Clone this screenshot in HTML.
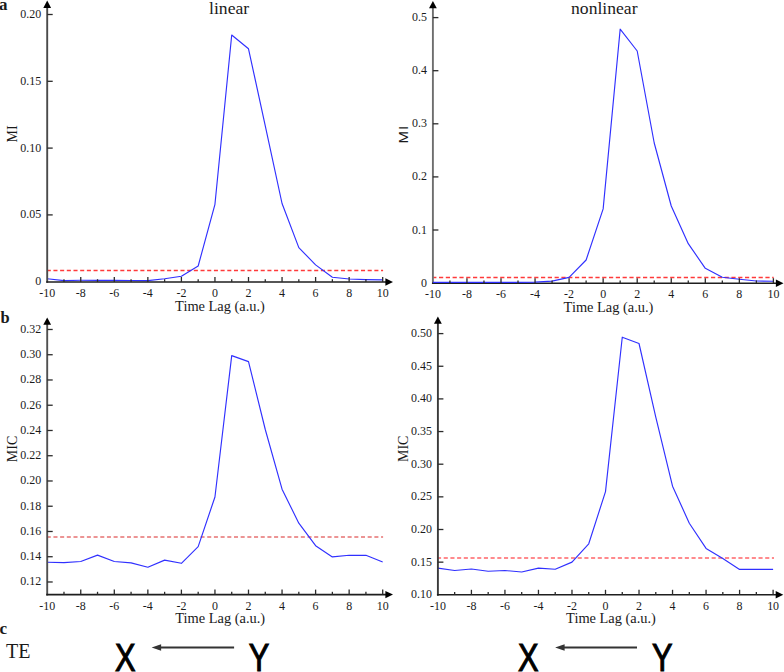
<!DOCTYPE html>
<html><head><meta charset="utf-8"><title>figure</title>
<style>html,body{margin:0;padding:0;background:#fff;}body{width:784px;height:672px;overflow:hidden;font-family:"Liberation Serif",serif;}svg{display:block;}</style>
</head><body>
<svg width="784" height="672" viewBox="0 0 784 672" font-family="Liberation Serif, serif" fill="#1a1a1a">
<rect width="784" height="672" fill="#fff"/>
<line x1="47.80" y1="270.50" x2="383.10" y2="270.50" stroke="#ff3a3a" stroke-width="1.3" stroke-dasharray="4.050 2.636" stroke-dashoffset="1.050"/>
<polyline points="47.20,278.80 63.98,280.60 80.75,280.30 97.53,280.30 114.30,280.40 131.07,280.50 147.85,280.60 164.62,278.80 181.40,276.20 198.18,266.00 214.95,204.30 231.72,35.00 248.50,48.80 265.27,125.80 282.05,203.50 298.82,247.60 315.60,264.90 332.37,277.30 349.15,279.00 365.92,279.60 382.70,279.90" fill="none" stroke="#3030ff" stroke-width="1.15" stroke-linejoin="round"/>
<line x1="47.20" y1="282.85" x2="47.20" y2="6.60" stroke="#4a4a4a" stroke-width="1.9"/>
<line x1="46.25" y1="282.00" x2="386.00" y2="282.00" stroke="#1e1e1e" stroke-width="1.6"/>
<path d="M393.00,282.00 L385.40,278.30 L385.40,285.70 Z" fill="#000"/>
<path d="M47.20,0.60 L43.30,7.90 L51.10,7.90 Z" fill="#000"/>
<line x1="63.98" y1="282.00" x2="63.98" y2="279.20" stroke="#2b2b2b" stroke-width="1.3"/>
<line x1="80.75" y1="282.00" x2="80.75" y2="277.00" stroke="#2b2b2b" stroke-width="1.3"/>
<line x1="97.53" y1="282.00" x2="97.53" y2="279.20" stroke="#2b2b2b" stroke-width="1.3"/>
<line x1="114.30" y1="282.00" x2="114.30" y2="277.00" stroke="#2b2b2b" stroke-width="1.3"/>
<line x1="131.07" y1="282.00" x2="131.07" y2="279.20" stroke="#2b2b2b" stroke-width="1.3"/>
<line x1="147.85" y1="282.00" x2="147.85" y2="277.00" stroke="#2b2b2b" stroke-width="1.3"/>
<line x1="164.62" y1="282.00" x2="164.62" y2="279.20" stroke="#2b2b2b" stroke-width="1.3"/>
<line x1="181.40" y1="282.00" x2="181.40" y2="277.00" stroke="#2b2b2b" stroke-width="1.3"/>
<line x1="198.18" y1="282.00" x2="198.18" y2="279.20" stroke="#2b2b2b" stroke-width="1.3"/>
<line x1="214.95" y1="282.00" x2="214.95" y2="277.00" stroke="#2b2b2b" stroke-width="1.3"/>
<line x1="231.72" y1="282.00" x2="231.72" y2="279.20" stroke="#2b2b2b" stroke-width="1.3"/>
<line x1="248.50" y1="282.00" x2="248.50" y2="277.00" stroke="#2b2b2b" stroke-width="1.3"/>
<line x1="265.27" y1="282.00" x2="265.27" y2="279.20" stroke="#2b2b2b" stroke-width="1.3"/>
<line x1="282.05" y1="282.00" x2="282.05" y2="277.00" stroke="#2b2b2b" stroke-width="1.3"/>
<line x1="298.82" y1="282.00" x2="298.82" y2="279.20" stroke="#2b2b2b" stroke-width="1.3"/>
<line x1="315.60" y1="282.00" x2="315.60" y2="277.00" stroke="#2b2b2b" stroke-width="1.3"/>
<line x1="332.37" y1="282.00" x2="332.37" y2="279.20" stroke="#2b2b2b" stroke-width="1.3"/>
<line x1="349.15" y1="282.00" x2="349.15" y2="277.00" stroke="#2b2b2b" stroke-width="1.3"/>
<line x1="365.92" y1="282.00" x2="365.92" y2="279.20" stroke="#2b2b2b" stroke-width="1.3"/>
<line x1="382.70" y1="282.00" x2="382.70" y2="277.00" stroke="#2b2b2b" stroke-width="1.3"/>
<text font-size="13" text-anchor="middle" transform="translate(47.20,297.00) scale(0.92,1)">-10</text>
<text font-size="13" text-anchor="middle" transform="translate(80.75,297.00) scale(0.92,1)">-8</text>
<text font-size="13" text-anchor="middle" transform="translate(114.30,297.00) scale(0.92,1)">-6</text>
<text font-size="13" text-anchor="middle" transform="translate(147.85,297.00) scale(0.92,1)">-4</text>
<text font-size="13" text-anchor="middle" transform="translate(181.40,297.00) scale(0.92,1)">-2</text>
<text font-size="13" text-anchor="middle" transform="translate(214.95,297.00) scale(0.92,1)">0</text>
<text font-size="13" text-anchor="middle" transform="translate(248.50,297.00) scale(0.92,1)">2</text>
<text font-size="13" text-anchor="middle" transform="translate(282.05,297.00) scale(0.92,1)">4</text>
<text font-size="13" text-anchor="middle" transform="translate(315.60,297.00) scale(0.92,1)">6</text>
<text font-size="13" text-anchor="middle" transform="translate(349.15,297.00) scale(0.92,1)">8</text>
<text font-size="13" text-anchor="middle" transform="translate(382.70,297.00) scale(0.92,1)">10</text>
<line x1="47.20" y1="14.50" x2="52.70" y2="14.50" stroke="#2b2b2b" stroke-width="1.3"/>
<text font-size="13" text-anchor="end" transform="translate(41.20,18.00) scale(0.92,1)">0.20</text>
<line x1="47.20" y1="81.30" x2="52.70" y2="81.30" stroke="#2b2b2b" stroke-width="1.3"/>
<text font-size="13" text-anchor="end" transform="translate(41.20,84.80) scale(0.92,1)">0.15</text>
<line x1="47.20" y1="148.10" x2="52.70" y2="148.10" stroke="#2b2b2b" stroke-width="1.3"/>
<text font-size="13" text-anchor="end" transform="translate(41.20,151.60) scale(0.92,1)">0.10</text>
<line x1="47.20" y1="214.90" x2="52.70" y2="214.90" stroke="#2b2b2b" stroke-width="1.3"/>
<text font-size="13" text-anchor="end" transform="translate(41.20,218.40) scale(0.92,1)">0.05</text>
<text font-size="13" text-anchor="end" transform="translate(41.20,285.20) scale(0.92,1)">0</text>
<text x="220.00" y="310.60" font-size="14.4" text-anchor="middle">Time Lag (a.u.)</text>
<text x="0" y="0" font-size="14" text-anchor="middle" transform="translate(17.00,134.00) rotate(-90)">MI</text>
<line x1="433.20" y1="277.50" x2="773.70" y2="277.50" stroke="#ff3a3a" stroke-width="1.3" stroke-dasharray="4.200 2.600" stroke-dashoffset="1.000"/>
<line x1="432.90" y1="284.05" x2="432.90" y2="7.00" stroke="#6e6e6e" stroke-width="1.9"/>
<line x1="431.95" y1="283.20" x2="776.50" y2="283.20" stroke="#1e1e1e" stroke-width="1.6"/>
<polyline points="432.90,282.30 449.92,282.30 466.95,282.30 483.97,282.30 501.00,282.30 518.02,282.30 535.05,282.10 552.07,281.10 569.10,277.40 586.12,260.00 603.15,208.90 620.17,29.20 637.20,51.00 654.22,143.00 671.25,206.00 688.27,243.70 705.30,268.30 722.32,277.30 739.35,279.30 756.38,281.00 773.40,281.30" fill="none" stroke="#3030ff" stroke-width="1.15" stroke-linejoin="round"/>
<path d="M783.50,283.20 L775.90,279.50 L775.90,286.90 Z" fill="#000"/>
<path d="M432.90,1.00 L429.00,8.30 L436.80,8.30 Z" fill="#000"/>
<line x1="449.92" y1="283.20" x2="449.92" y2="280.40" stroke="#2b2b2b" stroke-width="1.3"/>
<line x1="466.95" y1="283.20" x2="466.95" y2="278.20" stroke="#2b2b2b" stroke-width="1.3"/>
<line x1="483.97" y1="283.20" x2="483.97" y2="280.40" stroke="#2b2b2b" stroke-width="1.3"/>
<line x1="501.00" y1="283.20" x2="501.00" y2="278.20" stroke="#2b2b2b" stroke-width="1.3"/>
<line x1="518.02" y1="283.20" x2="518.02" y2="280.40" stroke="#2b2b2b" stroke-width="1.3"/>
<line x1="535.05" y1="283.20" x2="535.05" y2="278.20" stroke="#2b2b2b" stroke-width="1.3"/>
<line x1="552.07" y1="283.20" x2="552.07" y2="280.40" stroke="#2b2b2b" stroke-width="1.3"/>
<line x1="569.10" y1="283.20" x2="569.10" y2="278.20" stroke="#2b2b2b" stroke-width="1.3"/>
<line x1="586.12" y1="283.20" x2="586.12" y2="280.40" stroke="#2b2b2b" stroke-width="1.3"/>
<line x1="603.15" y1="283.20" x2="603.15" y2="278.20" stroke="#2b2b2b" stroke-width="1.3"/>
<line x1="620.17" y1="283.20" x2="620.17" y2="280.40" stroke="#2b2b2b" stroke-width="1.3"/>
<line x1="637.20" y1="283.20" x2="637.20" y2="278.20" stroke="#2b2b2b" stroke-width="1.3"/>
<line x1="654.22" y1="283.20" x2="654.22" y2="280.40" stroke="#2b2b2b" stroke-width="1.3"/>
<line x1="671.25" y1="283.20" x2="671.25" y2="278.20" stroke="#2b2b2b" stroke-width="1.3"/>
<line x1="688.27" y1="283.20" x2="688.27" y2="280.40" stroke="#2b2b2b" stroke-width="1.3"/>
<line x1="705.30" y1="283.20" x2="705.30" y2="278.20" stroke="#2b2b2b" stroke-width="1.3"/>
<line x1="722.32" y1="283.20" x2="722.32" y2="280.40" stroke="#2b2b2b" stroke-width="1.3"/>
<line x1="739.35" y1="283.20" x2="739.35" y2="278.20" stroke="#2b2b2b" stroke-width="1.3"/>
<line x1="756.38" y1="283.20" x2="756.38" y2="280.40" stroke="#2b2b2b" stroke-width="1.3"/>
<line x1="773.40" y1="283.20" x2="773.40" y2="278.20" stroke="#2b2b2b" stroke-width="1.3"/>
<text font-size="13" text-anchor="middle" transform="translate(432.90,298.30) scale(0.92,1)">-10</text>
<text font-size="13" text-anchor="middle" transform="translate(466.95,298.30) scale(0.92,1)">-8</text>
<text font-size="13" text-anchor="middle" transform="translate(501.00,298.30) scale(0.92,1)">-6</text>
<text font-size="13" text-anchor="middle" transform="translate(535.05,298.30) scale(0.92,1)">-4</text>
<text font-size="13" text-anchor="middle" transform="translate(569.10,298.30) scale(0.92,1)">-2</text>
<text font-size="13" text-anchor="middle" transform="translate(603.15,298.30) scale(0.92,1)">0</text>
<text font-size="13" text-anchor="middle" transform="translate(637.20,298.30) scale(0.92,1)">2</text>
<text font-size="13" text-anchor="middle" transform="translate(671.25,298.30) scale(0.92,1)">4</text>
<text font-size="13" text-anchor="middle" transform="translate(705.30,298.30) scale(0.92,1)">6</text>
<text font-size="13" text-anchor="middle" transform="translate(739.35,298.30) scale(0.92,1)">8</text>
<text font-size="13" text-anchor="middle" transform="translate(773.40,298.30) scale(0.92,1)">10</text>
<line x1="432.90" y1="17.60" x2="438.40" y2="17.60" stroke="#2b2b2b" stroke-width="1.3"/>
<text font-size="13" text-anchor="end" transform="translate(426.90,21.10) scale(0.92,1)">0.5</text>
<line x1="432.90" y1="70.70" x2="438.40" y2="70.70" stroke="#2b2b2b" stroke-width="1.3"/>
<text font-size="13" text-anchor="end" transform="translate(426.90,74.20) scale(0.92,1)">0.4</text>
<line x1="432.90" y1="123.80" x2="438.40" y2="123.80" stroke="#2b2b2b" stroke-width="1.3"/>
<text font-size="13" text-anchor="end" transform="translate(426.90,127.30) scale(0.92,1)">0.3</text>
<line x1="432.90" y1="176.90" x2="438.40" y2="176.90" stroke="#2b2b2b" stroke-width="1.3"/>
<text font-size="13" text-anchor="end" transform="translate(426.90,180.40) scale(0.92,1)">0.2</text>
<line x1="432.90" y1="230.00" x2="438.40" y2="230.00" stroke="#2b2b2b" stroke-width="1.3"/>
<text font-size="13" text-anchor="end" transform="translate(426.90,233.50) scale(0.92,1)">0.1</text>
<text font-size="13" text-anchor="end" transform="translate(426.90,286.60) scale(0.92,1)">0</text>
<text x="608.50" y="311.80" font-size="14.4" text-anchor="middle">Time Lag (a.u.)</text>
<text x="0" y="0" font-size="13.5" font-family="Liberation Sans, sans-serif" letter-spacing="0.8" text-anchor="middle" transform="translate(408.20,134.30) rotate(-90) scale(1.12,1)">MI</text>
<line x1="47.80" y1="537.00" x2="383.10" y2="537.00" stroke="#e67272" stroke-width="1.3" stroke-dasharray="4.050 2.636" stroke-dashoffset="1.050"/>
<polyline points="47.20,562.20 63.98,562.60 80.75,561.50 97.53,555.10 114.30,561.50 131.07,562.90 147.85,567.20 164.62,560.10 181.40,563.30 198.18,546.60 214.95,497.00 231.72,355.60 248.50,361.60 265.27,429.50 282.05,489.20 298.82,523.20 315.60,545.70 332.37,556.90 349.15,555.30 365.92,555.30 382.70,562.00" fill="none" stroke="#3030ff" stroke-width="1.15" stroke-linejoin="round"/>
<line x1="47.20" y1="595.45" x2="47.20" y2="323.40" stroke="#505050" stroke-width="1.9"/>
<line x1="46.25" y1="594.60" x2="386.00" y2="594.60" stroke="#1e1e1e" stroke-width="1.6"/>
<path d="M393.00,594.60 L385.40,590.90 L385.40,598.30 Z" fill="#000"/>
<path d="M47.20,317.40 L43.30,324.70 L51.10,324.70 Z" fill="#000"/>
<line x1="63.98" y1="594.60" x2="63.98" y2="591.80" stroke="#2b2b2b" stroke-width="1.3"/>
<line x1="80.75" y1="594.60" x2="80.75" y2="589.60" stroke="#2b2b2b" stroke-width="1.3"/>
<line x1="97.53" y1="594.60" x2="97.53" y2="591.80" stroke="#2b2b2b" stroke-width="1.3"/>
<line x1="114.30" y1="594.60" x2="114.30" y2="589.60" stroke="#2b2b2b" stroke-width="1.3"/>
<line x1="131.07" y1="594.60" x2="131.07" y2="591.80" stroke="#2b2b2b" stroke-width="1.3"/>
<line x1="147.85" y1="594.60" x2="147.85" y2="589.60" stroke="#2b2b2b" stroke-width="1.3"/>
<line x1="164.62" y1="594.60" x2="164.62" y2="591.80" stroke="#2b2b2b" stroke-width="1.3"/>
<line x1="181.40" y1="594.60" x2="181.40" y2="589.60" stroke="#2b2b2b" stroke-width="1.3"/>
<line x1="198.18" y1="594.60" x2="198.18" y2="591.80" stroke="#2b2b2b" stroke-width="1.3"/>
<line x1="214.95" y1="594.60" x2="214.95" y2="589.60" stroke="#2b2b2b" stroke-width="1.3"/>
<line x1="231.72" y1="594.60" x2="231.72" y2="591.80" stroke="#2b2b2b" stroke-width="1.3"/>
<line x1="248.50" y1="594.60" x2="248.50" y2="589.60" stroke="#2b2b2b" stroke-width="1.3"/>
<line x1="265.27" y1="594.60" x2="265.27" y2="591.80" stroke="#2b2b2b" stroke-width="1.3"/>
<line x1="282.05" y1="594.60" x2="282.05" y2="589.60" stroke="#2b2b2b" stroke-width="1.3"/>
<line x1="298.82" y1="594.60" x2="298.82" y2="591.80" stroke="#2b2b2b" stroke-width="1.3"/>
<line x1="315.60" y1="594.60" x2="315.60" y2="589.60" stroke="#2b2b2b" stroke-width="1.3"/>
<line x1="332.37" y1="594.60" x2="332.37" y2="591.80" stroke="#2b2b2b" stroke-width="1.3"/>
<line x1="349.15" y1="594.60" x2="349.15" y2="589.60" stroke="#2b2b2b" stroke-width="1.3"/>
<line x1="365.92" y1="594.60" x2="365.92" y2="591.80" stroke="#2b2b2b" stroke-width="1.3"/>
<line x1="382.70" y1="594.60" x2="382.70" y2="589.60" stroke="#2b2b2b" stroke-width="1.3"/>
<text font-size="13" text-anchor="middle" transform="translate(47.20,609.70) scale(0.92,1)">-10</text>
<text font-size="13" text-anchor="middle" transform="translate(80.75,609.70) scale(0.92,1)">-8</text>
<text font-size="13" text-anchor="middle" transform="translate(114.30,609.70) scale(0.92,1)">-6</text>
<text font-size="13" text-anchor="middle" transform="translate(147.85,609.70) scale(0.92,1)">-4</text>
<text font-size="13" text-anchor="middle" transform="translate(181.40,609.70) scale(0.92,1)">-2</text>
<text font-size="13" text-anchor="middle" transform="translate(214.95,609.70) scale(0.92,1)">0</text>
<text font-size="13" text-anchor="middle" transform="translate(248.50,609.70) scale(0.92,1)">2</text>
<text font-size="13" text-anchor="middle" transform="translate(282.05,609.70) scale(0.92,1)">4</text>
<text font-size="13" text-anchor="middle" transform="translate(315.60,609.70) scale(0.92,1)">6</text>
<text font-size="13" text-anchor="middle" transform="translate(349.15,609.70) scale(0.92,1)">8</text>
<text font-size="13" text-anchor="middle" transform="translate(382.70,609.70) scale(0.92,1)">10</text>
<line x1="47.20" y1="329.48" x2="52.70" y2="329.48" stroke="#2b2b2b" stroke-width="1.3"/>
<text font-size="13" text-anchor="end" transform="translate(41.20,332.98) scale(0.92,1)">0.32</text>
<line x1="47.20" y1="354.73" x2="52.70" y2="354.73" stroke="#2b2b2b" stroke-width="1.3"/>
<text font-size="13" text-anchor="end" transform="translate(41.20,358.23) scale(0.92,1)">0.30</text>
<line x1="47.20" y1="379.97" x2="52.70" y2="379.97" stroke="#2b2b2b" stroke-width="1.3"/>
<text font-size="13" text-anchor="end" transform="translate(41.20,383.47) scale(0.92,1)">0.28</text>
<line x1="47.20" y1="405.23" x2="52.70" y2="405.23" stroke="#2b2b2b" stroke-width="1.3"/>
<text font-size="13" text-anchor="end" transform="translate(41.20,408.73) scale(0.92,1)">0.26</text>
<line x1="47.20" y1="430.48" x2="52.70" y2="430.48" stroke="#2b2b2b" stroke-width="1.3"/>
<text font-size="13" text-anchor="end" transform="translate(41.20,433.98) scale(0.92,1)">0.24</text>
<line x1="47.20" y1="455.73" x2="52.70" y2="455.73" stroke="#2b2b2b" stroke-width="1.3"/>
<text font-size="13" text-anchor="end" transform="translate(41.20,459.23) scale(0.92,1)">0.22</text>
<line x1="47.20" y1="480.98" x2="52.70" y2="480.98" stroke="#2b2b2b" stroke-width="1.3"/>
<text font-size="13" text-anchor="end" transform="translate(41.20,484.48) scale(0.92,1)">0.20</text>
<line x1="47.20" y1="506.23" x2="52.70" y2="506.23" stroke="#2b2b2b" stroke-width="1.3"/>
<text font-size="13" text-anchor="end" transform="translate(41.20,509.73) scale(0.92,1)">0.18</text>
<line x1="47.20" y1="531.48" x2="52.70" y2="531.48" stroke="#2b2b2b" stroke-width="1.3"/>
<text font-size="13" text-anchor="end" transform="translate(41.20,534.98) scale(0.92,1)">0.16</text>
<line x1="47.20" y1="556.73" x2="52.70" y2="556.73" stroke="#2b2b2b" stroke-width="1.3"/>
<text font-size="13" text-anchor="end" transform="translate(41.20,560.23) scale(0.92,1)">0.14</text>
<line x1="47.20" y1="581.98" x2="52.70" y2="581.98" stroke="#2b2b2b" stroke-width="1.3"/>
<text font-size="13" text-anchor="end" transform="translate(41.20,585.48) scale(0.92,1)">0.12</text>
<text x="220.20" y="622.80" font-size="14.4" text-anchor="middle">Time Lag (a.u.)</text>
<text x="0" y="0" font-size="14" text-anchor="middle" transform="translate(17.40,449.00) rotate(-90)">MIC</text>
<line x1="437.90" y1="558.00" x2="774.00" y2="558.00" stroke="#ff6468" stroke-width="1.3" stroke-dasharray="4.100 2.598" stroke-dashoffset="0.900"/>
<polyline points="437.90,568.10 454.66,570.50 471.42,569.00 488.18,571.20 504.94,570.50 521.70,572.00 538.46,568.10 555.22,569.20 571.98,562.10 588.74,543.80 605.50,491.60 622.26,337.20 639.02,343.50 655.78,417.10 672.54,486.20 689.30,523.20 706.06,548.40 722.82,558.40 739.58,569.40 756.34,569.40 773.10,569.40" fill="none" stroke="#3030ff" stroke-width="1.15" stroke-linejoin="round"/>
<line x1="437.90" y1="595.65" x2="437.90" y2="322.40" stroke="#3a3a3a" stroke-width="1.9"/>
<line x1="436.95" y1="594.80" x2="776.30" y2="594.80" stroke="#1e1e1e" stroke-width="1.6"/>
<path d="M783.30,594.80 L775.70,591.10 L775.70,598.50 Z" fill="#000"/>
<path d="M437.90,316.40 L434.00,323.70 L441.80,323.70 Z" fill="#000"/>
<line x1="454.66" y1="594.80" x2="454.66" y2="592.00" stroke="#2b2b2b" stroke-width="1.3"/>
<line x1="471.42" y1="594.80" x2="471.42" y2="589.80" stroke="#2b2b2b" stroke-width="1.3"/>
<line x1="488.18" y1="594.80" x2="488.18" y2="592.00" stroke="#2b2b2b" stroke-width="1.3"/>
<line x1="504.94" y1="594.80" x2="504.94" y2="589.80" stroke="#2b2b2b" stroke-width="1.3"/>
<line x1="521.70" y1="594.80" x2="521.70" y2="592.00" stroke="#2b2b2b" stroke-width="1.3"/>
<line x1="538.46" y1="594.80" x2="538.46" y2="589.80" stroke="#2b2b2b" stroke-width="1.3"/>
<line x1="555.22" y1="594.80" x2="555.22" y2="592.00" stroke="#2b2b2b" stroke-width="1.3"/>
<line x1="571.98" y1="594.80" x2="571.98" y2="589.80" stroke="#2b2b2b" stroke-width="1.3"/>
<line x1="588.74" y1="594.80" x2="588.74" y2="592.00" stroke="#2b2b2b" stroke-width="1.3"/>
<line x1="605.50" y1="594.80" x2="605.50" y2="589.80" stroke="#2b2b2b" stroke-width="1.3"/>
<line x1="622.26" y1="594.80" x2="622.26" y2="592.00" stroke="#2b2b2b" stroke-width="1.3"/>
<line x1="639.02" y1="594.80" x2="639.02" y2="589.80" stroke="#2b2b2b" stroke-width="1.3"/>
<line x1="655.78" y1="594.80" x2="655.78" y2="592.00" stroke="#2b2b2b" stroke-width="1.3"/>
<line x1="672.54" y1="594.80" x2="672.54" y2="589.80" stroke="#2b2b2b" stroke-width="1.3"/>
<line x1="689.30" y1="594.80" x2="689.30" y2="592.00" stroke="#2b2b2b" stroke-width="1.3"/>
<line x1="706.06" y1="594.80" x2="706.06" y2="589.80" stroke="#2b2b2b" stroke-width="1.3"/>
<line x1="722.82" y1="594.80" x2="722.82" y2="592.00" stroke="#2b2b2b" stroke-width="1.3"/>
<line x1="739.58" y1="594.80" x2="739.58" y2="589.80" stroke="#2b2b2b" stroke-width="1.3"/>
<line x1="756.34" y1="594.80" x2="756.34" y2="592.00" stroke="#2b2b2b" stroke-width="1.3"/>
<line x1="773.10" y1="594.80" x2="773.10" y2="589.80" stroke="#2b2b2b" stroke-width="1.3"/>
<text font-size="13" text-anchor="middle" transform="translate(437.90,609.70) scale(0.92,1)">-10</text>
<text font-size="13" text-anchor="middle" transform="translate(471.42,609.70) scale(0.92,1)">-8</text>
<text font-size="13" text-anchor="middle" transform="translate(504.94,609.70) scale(0.92,1)">-6</text>
<text font-size="13" text-anchor="middle" transform="translate(538.46,609.70) scale(0.92,1)">-4</text>
<text font-size="13" text-anchor="middle" transform="translate(571.98,609.70) scale(0.92,1)">-2</text>
<text font-size="13" text-anchor="middle" transform="translate(605.50,609.70) scale(0.92,1)">0</text>
<text font-size="13" text-anchor="middle" transform="translate(639.02,609.70) scale(0.92,1)">2</text>
<text font-size="13" text-anchor="middle" transform="translate(672.54,609.70) scale(0.92,1)">4</text>
<text font-size="13" text-anchor="middle" transform="translate(706.06,609.70) scale(0.92,1)">6</text>
<text font-size="13" text-anchor="middle" transform="translate(739.58,609.70) scale(0.92,1)">8</text>
<text font-size="13" text-anchor="middle" transform="translate(773.10,609.70) scale(0.92,1)">10</text>
<line x1="437.90" y1="333.60" x2="443.40" y2="333.60" stroke="#2b2b2b" stroke-width="1.3"/>
<text font-size="13" text-anchor="end" transform="translate(431.90,337.10) scale(0.92,1)">0.50</text>
<line x1="437.90" y1="366.25" x2="443.40" y2="366.25" stroke="#2b2b2b" stroke-width="1.3"/>
<text font-size="13" text-anchor="end" transform="translate(431.90,369.75) scale(0.92,1)">0.45</text>
<line x1="437.90" y1="398.90" x2="443.40" y2="398.90" stroke="#2b2b2b" stroke-width="1.3"/>
<text font-size="13" text-anchor="end" transform="translate(431.90,402.40) scale(0.92,1)">0.40</text>
<line x1="437.90" y1="431.55" x2="443.40" y2="431.55" stroke="#2b2b2b" stroke-width="1.3"/>
<text font-size="13" text-anchor="end" transform="translate(431.90,435.05) scale(0.92,1)">0.35</text>
<line x1="437.90" y1="464.20" x2="443.40" y2="464.20" stroke="#2b2b2b" stroke-width="1.3"/>
<text font-size="13" text-anchor="end" transform="translate(431.90,467.70) scale(0.92,1)">0.30</text>
<line x1="437.90" y1="496.85" x2="443.40" y2="496.85" stroke="#2b2b2b" stroke-width="1.3"/>
<text font-size="13" text-anchor="end" transform="translate(431.90,500.35) scale(0.92,1)">0.25</text>
<line x1="437.90" y1="529.50" x2="443.40" y2="529.50" stroke="#2b2b2b" stroke-width="1.3"/>
<text font-size="13" text-anchor="end" transform="translate(431.90,533.00) scale(0.92,1)">0.20</text>
<line x1="437.90" y1="562.15" x2="443.40" y2="562.15" stroke="#2b2b2b" stroke-width="1.3"/>
<text font-size="13" text-anchor="end" transform="translate(431.90,565.65) scale(0.92,1)">0.15</text>
<text font-size="13" text-anchor="end" transform="translate(431.90,598.30) scale(0.92,1)">0.10</text>
<text x="611.00" y="622.80" font-size="14.4" text-anchor="middle">Time Lag (a.u.)</text>
<text x="0" y="0" font-size="14" text-anchor="middle" transform="translate(407.80,448.80) rotate(-90)">MIC</text>
<text x="-1.0" y="9.8" font-size="17" font-weight="bold">a</text>
<text x="0.4" y="322.8" font-size="16.5" font-weight="bold">b</text>
<text x="-0.6" y="633.7" font-size="17" font-weight="bold">c</text>
<text x="229.1" y="14" font-size="17.6" text-anchor="middle">linear</text>
<text x="604.3" y="14" font-size="17.6" text-anchor="middle">nonlinear</text>
<text x="6" y="658" font-size="20">TE</text>
<text x="0" y="0" font-size="38.5" font-family="Liberation Sans, sans-serif" fill="#000" stroke="#000" stroke-width="1.1" transform="translate(114.90,670.6) scale(0.8,1)">X</text>
<text x="0" y="0" font-size="38.5" font-family="Liberation Sans, sans-serif" fill="#000" stroke="#000" stroke-width="1.1" transform="translate(248.80,670.6) scale(0.8,1)">Y</text>
<line x1="159.60" y1="647.5" x2="234.10" y2="647.5" stroke="#333" stroke-width="1.8"/>
<path d="M151.60,647.5 L161.10,644.3 L161.10,650.7 Z" fill="#333"/>
<text x="0" y="0" font-size="38.5" font-family="Liberation Sans, sans-serif" fill="#000" stroke="#000" stroke-width="1.1" transform="translate(518.00,670.6) scale(0.8,1)">X</text>
<text x="0" y="0" font-size="38.5" font-family="Liberation Sans, sans-serif" fill="#000" stroke="#000" stroke-width="1.1" transform="translate(652.10,670.6) scale(0.8,1)">Y</text>
<line x1="563.10" y1="647.5" x2="637.00" y2="647.5" stroke="#333" stroke-width="1.8"/>
<path d="M555.10,647.5 L564.60,644.3 L564.60,650.7 Z" fill="#333"/>
</svg>
</body></html>
